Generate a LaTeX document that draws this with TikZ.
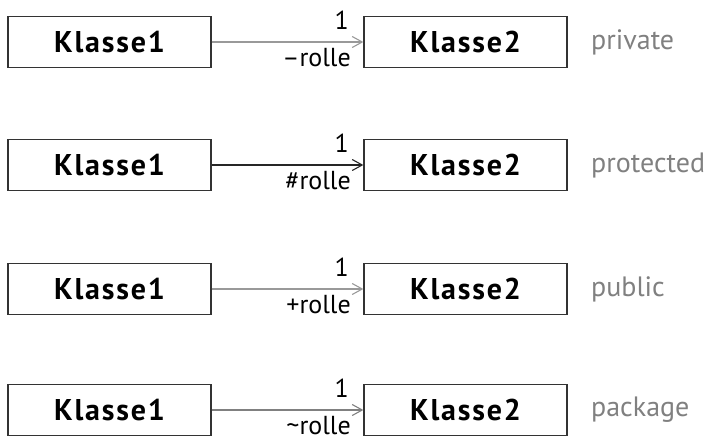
\documentclass[tikz,border=0pt]{standalone}
\usepackage{fontspec}
\setmainfont{PT Sans}
\usetikzlibrary{arrows.meta}
\begin{document}
\begin{tikzpicture}[x=1pt,y=-1pt,
  cls/.style={draw=black!80,line width=1.3pt,minimum width=203pt,minimum height=51pt,inner sep=0pt,font=\fontsize{30}{32}\selectfont\bfseries\addfontfeature{LetterSpace=6}},
  assoc/.style={line width=1.2pt,-{Straight Barb[length=10pt,width=11pt,line width=1.1pt]}},
  mult/.style={anchor=south east,inner sep=0pt,font=\fontsize{26}{28}\selectfont},
  role/.style={anchor=north east,inner sep=0pt,font=\fontsize{26}{28}\selectfont},
  vis/.style={anchor=west,inner sep=0pt,text=black!50,font=\fontsize{28}{30}\selectfont}]
\useasboundingbox (0,0) rectangle (716,442);
\foreach \i/\y/\r/\v/\c in {1/42/{–rolle}/private/black!40,2/165/{\#rolle}/protected/black!85,3/289/{+rolle}/public/black!40,4/410/{\char"007Erolle}/package/black!50}{
  \node[cls] (a\i) at (109.5,\y) {Klasse1};
  \node[cls] (b\i) at (465.5,\y) {Klasse2};
  \draw[assoc,draw=\c] (a\i.east) -- (b\i.west)
    node[pos=1,mult,xshift=-14pt,yshift=12pt] (m\i) {1}
    node[pos=1,role,xshift=-12pt,yshift=-6pt] (r\i) {\r};
  \node[vis] (v\i) at (591,\y) {\v};
}
\end{tikzpicture}
\end{document}
